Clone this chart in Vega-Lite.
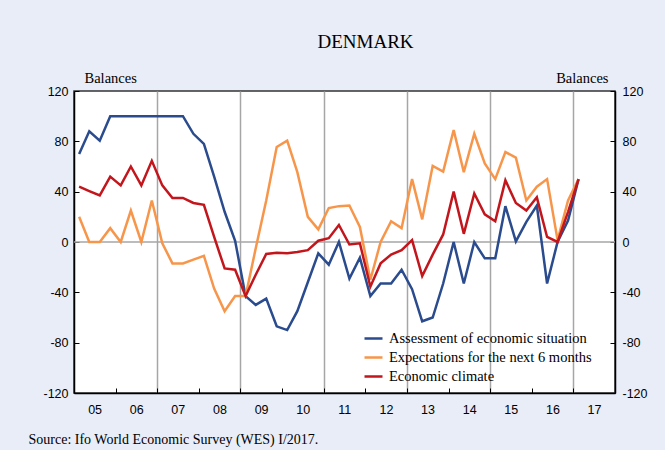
{
  "$schema": "https://vega.github.io/schema/vega-lite/v6.json",
  "width": 541,
  "height": 302,
  "autosize": {"type": "none"},
  "padding": {"left": 74, "top": 91, "right": 50, "bottom": 57},
  "background": "#E9EDF8",
  "title": {"text": "DENMARK", "font": "Liberation Serif", "fontSize": 19, "fontWeight": "normal", "color": "#000000", "anchor": "middle", "frame": "group", "dx": 21, "offset": 19},
  "config": {
    "view": {"fill": "white", "stroke": "#333333", "strokeWidth": 1.5}
  },
  "resolve": {"scale": {"y": "independent"}},
  "layer": [
    {
      "data": {"values": [{}]},
      "mark": {"type": "rule", "color": "#A6A6A6", "strokeWidth": 1.5},
      "encoding": {
        "y": {"datum": 0, "type": "quantitative", "scale": {"domain": [-120, 120]},
          "axis": {"title": "Balances", "orient": "right", "values": [-120, -80, -40, 0, 40, 80, 120], "labelExpr": "'' + datum.value", "tickSize": -5, "tickColor": "#000000", "grid": false, "domainColor": "#000000", "domainWidth": 1.5, "labelFont": "Liberation Sans", "labelFontSize": 12.5, "labelColor": "#000000", "labelPadding": 12, "titleAngle": 0, "titleFont": "Liberation Serif", "titleFontSize": 14.5, "titleFontWeight": "normal", "titleColor": "#000000", "titleX": -7, "titleY": -8.5, "titleAlign": "right", "titleBaseline": "alphabetic"}}
      }
    },
    {
      "data": {"values": [
        {"d": "2005-02-15", "a": 70, "e": 20, "c": 44},
        {"d": "2005-05-15", "a": 88, "e": 0, "c": 40.5},
        {"d": "2005-08-15", "a": 80.5, "e": 0, "c": 37},
        {"d": "2005-11-15", "a": 100, "e": 11, "c": 52},
        {"d": "2006-02-15", "a": 100, "e": 0, "c": 45},
        {"d": "2006-05-15", "a": 100, "e": 25, "c": 60},
        {"d": "2006-08-15", "a": 100, "e": 0, "c": 45},
        {"d": "2006-11-15", "a": 100, "e": 33, "c": 64.5},
        {"d": "2007-02-15", "a": 100, "e": -1, "c": 45},
        {"d": "2007-05-15", "a": 100, "e": -17, "c": 35},
        {"d": "2007-08-15", "a": 100, "e": -17, "c": 35},
        {"d": "2007-11-15", "a": 86, "e": -14, "c": 31},
        {"d": "2008-02-15", "a": 78, "e": -11, "c": 29.5},
        {"d": "2008-05-15", "a": 52, "e": -37, "c": 4},
        {"d": "2008-08-15", "a": 24, "e": -55, "c": -21},
        {"d": "2008-11-15", "a": 1, "e": -43, "c": -22},
        {"d": "2009-02-15", "a": -43, "e": -43, "c": -43},
        {"d": "2009-05-15", "a": -50, "e": -5, "c": -26},
        {"d": "2009-08-15", "a": -45, "e": 33, "c": -9.5},
        {"d": "2009-11-15", "a": -67, "e": 75.5, "c": -8.5},
        {"d": "2010-02-15", "a": -70, "e": 80.5, "c": -9},
        {"d": "2010-05-15", "a": -55, "e": 55.5, "c": -8},
        {"d": "2010-08-15", "a": -32, "e": 20, "c": -6.5},
        {"d": "2010-11-15", "a": -9, "e": 10, "c": 1},
        {"d": "2011-02-15", "a": -18, "e": 27, "c": 3},
        {"d": "2011-05-15", "a": 0, "e": 28.5, "c": 13.5},
        {"d": "2011-08-15", "a": -29, "e": 29, "c": -2},
        {"d": "2011-11-15", "a": -12.5, "e": 12, "c": -1},
        {"d": "2012-02-15", "a": -43, "e": -30, "c": -35.5},
        {"d": "2012-05-15", "a": -33, "e": 0, "c": -17},
        {"d": "2012-08-15", "a": -33, "e": 16.5, "c": -10},
        {"d": "2012-11-15", "a": -22, "e": 11, "c": -6.5},
        {"d": "2013-02-15", "a": -37.5, "e": 50, "c": 1.5},
        {"d": "2013-05-15", "a": -63, "e": 18, "c": -27},
        {"d": "2013-08-15", "a": -60, "e": 60.5, "c": -10},
        {"d": "2013-11-15", "a": -33, "e": 56, "c": 6},
        {"d": "2014-02-15", "a": 0, "e": 89, "c": 40},
        {"d": "2014-05-15", "a": -33, "e": 55.5, "c": 6.5},
        {"d": "2014-08-15", "a": 0, "e": 86, "c": 38.5},
        {"d": "2014-11-15", "a": -13, "e": 62.5, "c": 22},
        {"d": "2015-02-15", "a": -13, "e": 50, "c": 16.5},
        {"d": "2015-05-15", "a": 28.5, "e": 71.5, "c": 49},
        {"d": "2015-08-15", "a": 0.5, "e": 67, "c": 31},
        {"d": "2015-11-15", "a": 16, "e": 33, "c": 25},
        {"d": "2016-02-15", "a": 29, "e": 44, "c": 35.5},
        {"d": "2016-05-15", "a": -33, "e": 50, "c": 4},
        {"d": "2016-08-15", "a": 0, "e": 1.5, "c": 0},
        {"d": "2016-11-15", "a": 17, "e": 33, "c": 24},
        {"d": "2017-02-15", "a": 50, "e": 50, "c": 50}
      ]},
      "transform": [{"fold": ["a", "e", "c"], "as": ["series", "value"]}],
      "mark": {"type": "line", "strokeWidth": 2.5},
      "encoding": {
        "x": {"field": "d", "type": "temporal", "title": "Source: Ifo World Economic Survey (WES) I/2017.",
          "scale": {"domain": [{"year": 2005, "month": 1, "date": 1}, {"year": 2018, "month": 1, "date": 1}]},
          "axis": {
            "values": [
              {"year": 2005, "month": 7, "date": 1}, {"year": 2006, "month": 1, "date": 1},
              {"year": 2006, "month": 7, "date": 1}, {"year": 2007, "month": 1, "date": 1},
              {"year": 2007, "month": 7, "date": 1}, {"year": 2008, "month": 1, "date": 1},
              {"year": 2008, "month": 7, "date": 1}, {"year": 2009, "month": 1, "date": 1},
              {"year": 2009, "month": 7, "date": 1}, {"year": 2010, "month": 1, "date": 1},
              {"year": 2010, "month": 7, "date": 1}, {"year": 2011, "month": 1, "date": 1},
              {"year": 2011, "month": 7, "date": 1}, {"year": 2012, "month": 1, "date": 1},
              {"year": 2012, "month": 7, "date": 1}, {"year": 2013, "month": 1, "date": 1},
              {"year": 2013, "month": 7, "date": 1}, {"year": 2014, "month": 1, "date": 1},
              {"year": 2014, "month": 7, "date": 1}, {"year": 2015, "month": 1, "date": 1},
              {"year": 2015, "month": 7, "date": 1}, {"year": 2016, "month": 1, "date": 1},
              {"year": 2016, "month": 7, "date": 1}, {"year": 2017, "month": 1, "date": 1},
              {"year": 2017, "month": 7, "date": 1}
            ],
            "labelExpr": "month(datum.value) === 6 ? timeFormat(datum.value, '%y') : ''",
            "labelOverlap": false,
            "labelDx": 4,
            "labelFont": "Liberation Sans", "labelFontSize": 12.5, "labelColor": "#000000", "labelPadding": 15,
            "tickSize": -5, "tickColor": "#000000",
            "tickOpacity": {"condition": {"test": "month(datum.value) === 0", "value": 1}, "value": 0},
            "grid": true, "gridColor": "#A6A6A6", "gridWidth": 1.5,
            "gridOpacity": {"condition": {"test": "month(datum.value) === 0 && year(datum.value) % 2 === 1 && year(datum.value) > 2006", "value": 1}, "value": 0},
            "domainColor": "#000000", "domainWidth": 1.5,
            "titleFont": "Liberation Serif", "titleFontSize": 14, "titleFontWeight": "normal", "titleColor": "#000000",
            "titleAnchor": "start", "titleAlign": "left", "titleX": -46, "titleY": 50, "titleBaseline": "alphabetic"
          }},
        "y": {"field": "value", "type": "quantitative", "scale": {"domain": [-120, 120]},
          "axis": {"title": "Balances", "orient": "left", "values": [-120, -80, -40, 0, 40, 80, 120], "labelExpr": "'' + datum.value", "tickSize": -5, "tickColor": "#000000", "grid": false, "domainColor": "#000000", "domainWidth": 1.5, "labelFont": "Liberation Sans", "labelFontSize": 12.5, "labelColor": "#000000", "labelPadding": 11, "titleAngle": 0, "titleFont": "Liberation Serif", "titleFontSize": 14.5, "titleFontWeight": "normal", "titleColor": "#000000", "titleX": 10, "titleY": -8.5, "titleAlign": "left", "titleBaseline": "alphabetic"}},
        "color": {"field": "series", "type": "nominal",
          "scale": {"domain": ["a", "e", "c"], "range": ["#2A4B8D", "#F7964A", "#C3161C"]},
          "legend": {"orient": "none", "legendX": 289, "legendY": 237, "title": null, "labelFont": "Liberation Serif", "labelFontSize": 14.5, "labelColor": "#000000", "labelLimit": 300, "symbolType": "stroke", "symbolSize": 324, "symbolStrokeWidth": 2.5, "labelOffset": 5, "rowPadding": 2, "padding": 0,
            "labelExpr": "datum.label === 'a' ? 'Assessment of economic situation' : datum.label === 'e' ? 'Expectations for the next 6 months' : 'Economic climate'"}}
      }
    }
  ]
}
